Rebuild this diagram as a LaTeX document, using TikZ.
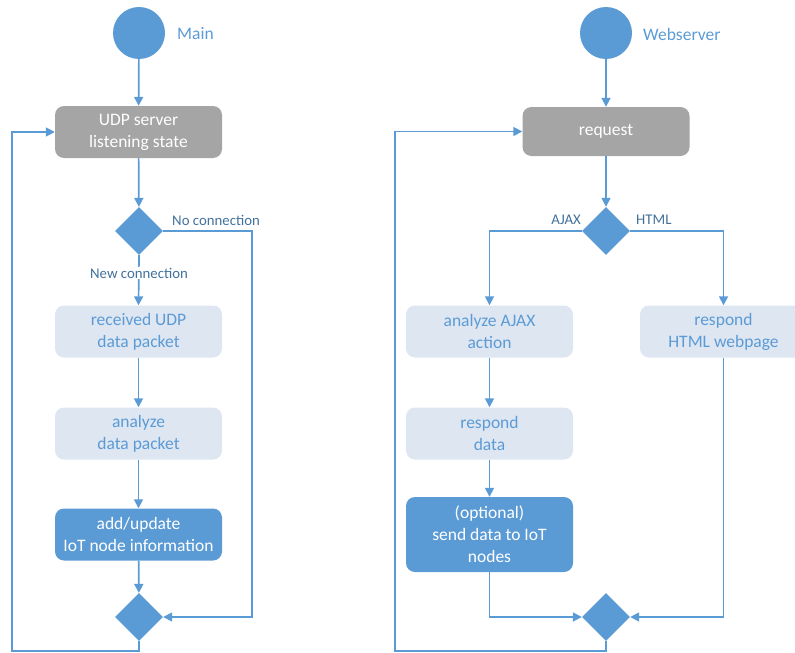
\documentclass[tikz,border=0pt]{standalone}
\usepackage{fontspec}
\setmainfont{Carlito}
\usetikzlibrary{shapes.geometric,arrows.meta}
\definecolor{accent}{HTML}{5B9BD5}
\definecolor{greyfill}{HTML}{A5A5A5}
\definecolor{palefill}{HTML}{DEE6F2}
\definecolor{labeltext}{HTML}{41719C}
\tikzset{
  startc/.style={circle,fill=accent,minimum size=52pt,inner sep=0pt},
  actbox/.style={rounded corners=9pt,minimum width=167pt,minimum height=52pt,
    align=center,font=\fontsize{17.5}{22}\selectfont,inner sep=2pt},
  greybox/.style={actbox,fill=greyfill,text=white},
  palebox/.style={actbox,fill=palefill,text=accent},
  bluebox/.style={actbox,fill=accent,text=white},
  dia/.style={diamond,fill=accent,minimum width=48pt,minimum height=48pt,inner sep=0pt},
  flow/.style={draw=accent,line width=1.7pt,-{Triangle[length=9pt,width=9pt]}},
  guard/.style={text=labeltext,font=\fontsize{14.8}{16}\selectfont,inner sep=1pt},
  heading/.style={text=accent,font=\fontsize{17.5}{20}\selectfont,inner sep=0pt}
}
\begin{document}
\begin{tikzpicture}[x=1pt,y=-1pt]
\useasboundingbox (0,0) rectangle (795,653);

% ---- Main loop ----
\node[startc] (s1) at (139,33) {};
\node[heading,anchor=west] (t1) at (177,34) {Main};
\node[greybox] (udp) at (138.5,132) {UDP server\\listening state};
\node[dia] (d1) at (139,231) {};
\node[palebox] (recv) at (138.5,331.5) {received UDP\\data packet};
\node[palebox] (anal) at (138.5,433.5) {analyze\\data packet};
\node[bluebox] (add) at (138.5,534.5) {add/update\\IoT node information};
\node[dia] (d2) at (139,617) {};
\coordinate (nc) at (252,231);
\coordinate (l1) at (12,651);

\draw[flow] (s1) -- (udp);
\draw[flow] (udp) -- (d1);
\draw[flow] (d1.south) -- (recv.north);
\node[guard,fill=white] (newc) at (139,273) {New connection};
\node[guard,anchor=west] (noc) at (171,220) {No connection};
\draw[flow] (d1.east) -- (nc) |- (d2.east);
\draw[flow] (recv) -- (anal);
\draw[flow] (anal) -- (add);
\draw[flow] (add) -- (d2);
\draw[flow] (d2.south) |- (l1) |- (udp.west);

% ---- Webserver loop ----
\node[startc] (s2) at (606,33) {};
\node[heading,anchor=west] (t2) at (643,34) {Webserver};
\node[greybox,minimum height=49pt] (req) at (606,131.5) {request};
\node[dia] (d3) at (606,231) {};
\node[palebox] (ajax) at (489.5,331.5) {analyze AJAX\\action};
\node[palebox] (html) at (723.5,331.5) {respond\\HTML webpage};
\node[palebox] (resp) at (489.5,433.5) {respond\\data};
\node[bluebox,minimum height=75pt] (opt) at (489.5,534.5) {(optional)\\send data to IoT\\nodes};
\node[dia] (d4) at (606,617) {};
\coordinate (l2) at (395,651);

\draw[flow] (s2) -- (req);
\draw[flow] (req) -- (d3);
\draw[flow] (d3.west) -| (ajax.north);
\draw[flow] (d3.east) -| (html.north);
\node[guard,anchor=east] (ajl) at (582,220) {AJAX};
\node[guard,anchor=west] (htl) at (635,220) {HTML};
\draw[flow] (ajax) -- (resp);
\draw[flow] (resp) -- (opt);
\draw[flow] (opt.south) |- (d4.west);
\draw[flow] (html.south) |- (d4.east);
\draw[flow] (d4.south) |- (l2) |- (req.west);
\end{tikzpicture}
\end{document}
